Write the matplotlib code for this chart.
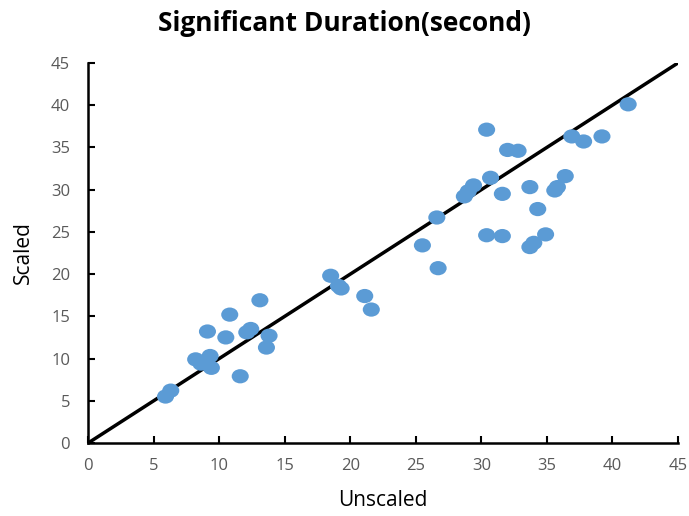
import matplotlib
matplotlib.use('Agg')
import matplotlib.pyplot as plt
from matplotlib.markers import MarkerStyle
from matplotlib.transforms import Affine2D

plt.rcParams['font.family'] = ['Open Sans', 'DejaVu Sans']

# unscaled vs scaled significant duration, seconds
unscaled = [5.9, 6.3, 8.2, 8.6, 9.1, 9.3, 9.4, 10.5, 10.8, 11.6, 12.1, 12.4,
            13.1, 13.6, 13.8, 18.5, 19.1, 19.3, 21.1, 21.6,
            25.5, 26.6, 26.7, 28.7, 29.0, 29.4, 30.4, 30.4, 30.7, 31.6, 31.6,
            32.0, 32.8, 33.7, 33.7, 34.0, 34.3, 34.9, 35.6, 35.8, 36.4,
            36.9, 37.8, 39.2, 41.2]
scaled = [5.5, 6.2, 9.9, 9.4, 13.2, 10.3, 8.9, 12.5, 15.2, 7.9, 13.1, 13.5,
          16.9, 11.3, 12.7, 19.8, 18.6, 18.3, 17.4, 15.8,
          23.4, 26.7, 20.7, 29.2, 29.8, 30.5, 37.1, 24.6, 31.4, 29.5, 24.5,
          34.7, 34.6, 30.3, 23.2, 23.7, 27.7, 24.7, 29.9, 30.3, 31.6,
          36.3, 35.7, 36.3, 40.1]

fig = plt.figure(figsize=(6.89, 5.16), dpi=100)
ax = fig.add_axes([0.128, 0.1415, 0.856, 0.7365])

ax.plot([0, 45], [0, 45], color='black', lw=2.5, zorder=2)
oval = MarkerStyle('o', transform=Affine2D().scale(1.2, 1.0))
ax.scatter(unscaled, scaled, s=105, marker=oval, color='#5B9BD5',
           edgecolors='none', zorder=3)

ax.set_xlim(0, 45)
ax.set_ylim(0, 45)
ax.set_xticks(range(0, 46, 5))
ax.set_yticks(range(0, 46, 5))
for s in ['top', 'right']:
    ax.spines[s].set_visible(False)
for s in ['left', 'bottom']:
    ax.spines[s].set_linewidth(1.8)
    ax.spines[s].set_color('black')
ax.tick_params(direction='in', length=5, width=1.5, labelsize=12,
               labelcolor='#595959')
ax.tick_params(axis='x', pad=11)
ax.tick_params(axis='y', pad=13)

ax.set_xlabel('Unscaled', fontsize=15, labelpad=11)
ax.set_ylabel('Scaled', fontsize=15, labelpad=12)
fig.suptitle('Significant Duration(second)', fontsize=19, fontweight='bold',
             x=0.5, y=0.98)

fig.savefig('out.png', dpi=100)
plt.close()
